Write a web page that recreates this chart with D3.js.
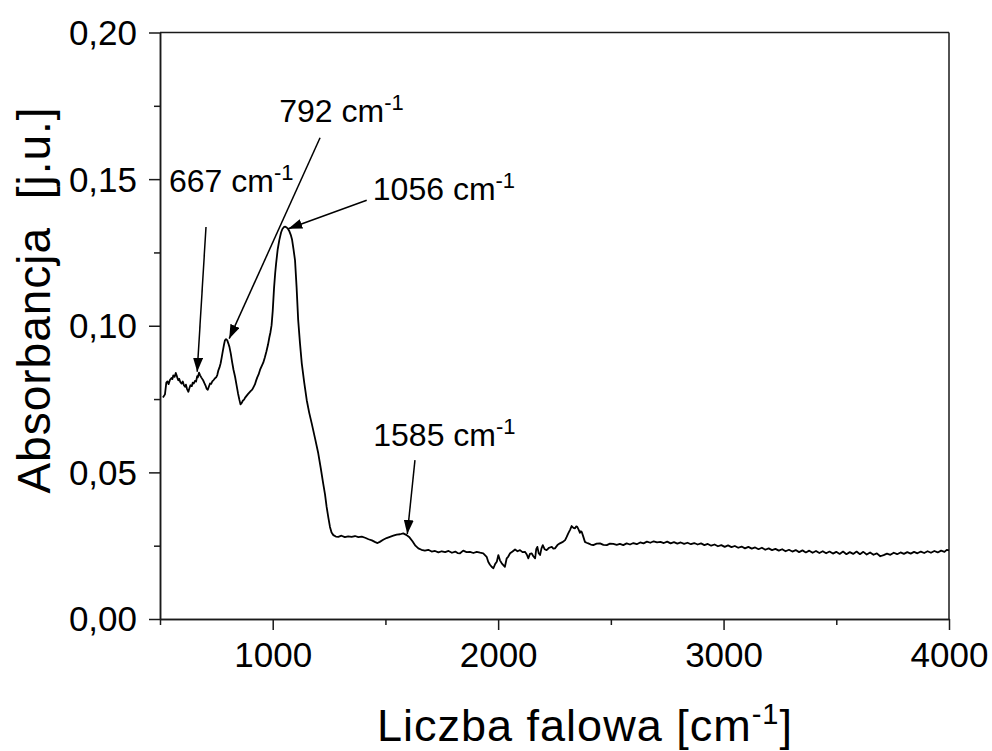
<!DOCTYPE html>
<html>
<head>
<meta charset="utf-8">
<script src="https://cdn.jsdelivr.net/npm/d3@7"></script>
<style>
  html, body { margin: 0; padding: 0; background: #fff; }
  svg { display: block; font-family: Arial, "Liberation Sans", sans-serif; }
</style>
</head>
<body>
<svg id="chart" width="992" height="751"></svg>
<script>
// ---- Data ----
const waveNumber = [
  513,522,528,533,538,544,551,555,559,565,570,574,578,581,585,590,596,601,606,611,615,620,626,630,635,641,645,650,655,660,
  665,668,673,678,683,688,692,697,702,707,712,717,722,727,732,738,744,749,754,759,764,769,774,779,784,788,793,798,803,808,
  814,820,826,833,840,846,852,857,862,868,873,877,883,890,896,903,909,915,921,926,931,937,944,951,958,965,972,979,985,990,
  995,1000,1006,1011,1015,1022,1029,1037,1043,1050,1056,1062,1068,1074,1080,1086,1092,1099,1106,1113,1121,1129,1140,1151,1162,1173,1188,1202,1213,1224,
  1232,1239,1247,1254,1261,1269,1280,
  1291,1305,1320,1335,1350,1365,1380,1395,1410,1425,1440,1455,1465,1475,1490,1505,1520,1535,1550,1565,1579,1592,1605,1620,1633,1646,1660,1675,1690,1705,
  1720,1735,1750,1765,1780,1795,1810,1820,
  1831,1845,1860,1875,1890,1905,1920,1934,1949,1956,1963,1971,1979,1987,1994,2001,2008,2016,2023,2030,2038,2045,2053,2064,2075,2086,2097,2108,2119,2127,
  2134,2141,2149,2156,2164,2169,2174,2180,2186,2192,2198,2206,2215,2226,2238,2245,2252,2263,2274,2285,2297,2304,2311,2319,2326,2334,2341,2346,2351,2357,
  2363,2367,2371,2378,2385,2392,2400,2411,2422,2437,2452,2467,2482,2496,2511,2526,
  2540,2555,2570,2585,2600,2615,2630,2645,2660,2675,
  2690,2705,2720,2735,2750,2765,2780,2795,2810,2825,
  2840,2855,2870,2885,2900,2915,2930,2945,2960,2975,
  2990,3005,3020,3035,3050,3065,3080,3095,3110,3125,
  3140,3155,3170,3185,3200,3215,3230,3245,3260,3275,
  3290,3305,3320,3335,3350,3365,3380,3395,3410,3425,
  3440,3455,3470,3485,3500,3515,3530,3545,3560,3575,
  3590,3605,3620,3635,3650,3665,3680,3695,3710,3725,
  3740,3755,3770,3785,3800,3815,3830,3845,3860,3875,
  3890,3905,3920,3935,3950,3965,3980,3990,4000
];
const absorbance = [
  0.0755,0.0766,0.0806,0.0810,0.0801,0.0815,0.0822,0.0818,0.0831,0.0826,0.0839,0.0830,0.0820,0.0814,0.0819,0.0808,0.0803,0.0810,0.0797,0.0792,0.0799,0.0784,0.0775,0.0786,0.0797,0.0794,0.0806,0.0803,0.0812,0.0810,
  0.0828,0.0824,0.0840,0.0831,0.0824,0.0818,0.0813,0.0804,0.0796,0.0785,0.0782,0.0793,0.0803,0.0802,0.0810,0.0815,0.0821,0.0824,0.0832,0.0848,0.0858,0.0872,0.0893,0.0915,0.0936,0.0950,0.0954,0.0951,0.0940,0.0928,
  0.0905,0.0876,0.0850,0.0826,0.0796,0.0770,0.0748,0.0732,0.0736,0.0745,0.0748,0.0754,0.0760,0.0767,0.0772,0.0778,0.0782,0.0791,0.0800,0.0812,0.0823,0.0833,0.0850,0.0862,0.0874,0.0892,0.0912,0.0935,0.0960,0.0978,
  0.1002,0.1050,0.1130,0.1180,0.1212,0.1260,0.1291,0.1318,0.1330,0.1337,0.1338,0.1335,0.1330,0.1322,0.1310,0.1293,0.1262,0.1223,0.1130,0.1019,0.0940,0.0871,0.0805,0.0746,0.0703,0.0667,0.0615,0.0565,0.0515,0.0462,
  0.0425,0.0383,0.0345,0.0314,0.0295,0.0286,0.0281,
  0.0280,0.0284,0.0279,0.0282,0.0280,0.0283,0.0279,0.0281,0.0277,0.0272,0.0268,0.0262,0.0259,0.0263,0.0270,0.0276,0.0280,0.0284,0.0288,0.0289,0.0292,0.0287,0.0280,0.0265,0.0250,0.0241,0.0236,0.0233,0.0236,0.0230,
  0.0232,0.0227,0.0231,0.0228,0.0232,0.0226,0.0230,0.0225,
  0.0224,0.0233,0.0228,0.0229,0.0225,0.0229,0.0226,0.0224,0.0212,0.0195,0.0186,0.0178,0.0173,0.0188,0.0195,0.0218,0.0200,0.0190,0.0184,0.0178,0.0207,0.0213,0.0224,0.0230,0.0237,0.0231,0.0235,0.0228,0.0229,0.0220,
  0.0207,0.0222,0.0224,0.0214,0.0207,0.0238,0.0246,0.0224,0.0218,0.0240,0.0252,0.0238,0.0235,0.0243,0.0246,0.0240,0.0241,0.0252,0.0258,0.0262,0.0269,0.0280,0.0292,0.0304,0.0317,0.0311,0.0309,0.0316,0.0314,0.0305,
  0.0294,0.0299,0.0297,0.0280,0.0263,0.0260,0.0258,0.0254,0.0252,0.0257,0.0258,0.0253,0.0252,0.0257,0.0256,0.0253,
  0.0256,0.0252,0.0258,0.0254,0.0259,0.0255,0.0261,0.0258,0.0264,0.0260,
  0.0265,0.0261,0.0263,0.0259,0.0264,0.0258,0.0262,0.0257,0.0261,0.0256,
  0.0260,0.0255,0.0259,0.0254,0.0258,0.0252,0.0256,0.0250,0.0254,0.0248,
  0.0252,0.0246,0.0251,0.0245,0.0249,0.0243,0.0247,0.0241,0.0246,0.0240,
  0.0244,0.0238,0.0243,0.0236,0.0241,0.0235,0.0239,0.0233,0.0238,0.0231,
  0.0236,0.0230,0.0235,0.0228,0.0234,0.0227,0.0233,0.0226,0.0232,0.0225,
  0.0231,0.0224,0.0230,0.0223,0.0229,0.0222,0.0230,0.0221,0.0228,0.0222,
  0.0230,0.0221,0.0229,0.0220,0.0227,0.0219,0.0224,0.0214,0.0218,0.0223,
  0.0219,0.0226,0.0221,0.0227,0.0222,0.0228,0.0223,0.0229,0.0224,0.0230,
  0.0225,0.0231,0.0226,0.0232,0.0227,0.0233,0.0229,0.0236,0.0234
];

const xMajorTicks = [1000, 2000, 3000, 4000];
const xMinorTicks = [500, 1500, 2500, 3500];
const yMajorTicks = [0.00, 0.05, 0.10, 0.15, 0.20];
const yMinorTicks = [0.025, 0.075, 0.125, 0.175];

// Peak annotations (label, text anchor point, arrow start, arrow tip) in data units
const peakLabels   = ["667", "792", "1056", "1585"];
const labelWave    = [540, 1029, 1444, 1446];
const labelAbs     = [0.1456, 0.1694, 0.1428, 0.0589];
const arrowFromWave = [704, 1210, 1417, 1631];
const arrowFromAbs  = [0.1337, 0.1641, 0.1428, 0.0542];
const arrowToWave   = [665, 807, 1069, 1597];
const arrowToAbs    = [0.0843, 0.0956, 0.1331, 0.0290];

const xTitle = "Liczba falowa [cm";
const yTitle = "Absorbancja  [j.u.]";

// ---- Drawing ----
const svg = d3.select("#chart");
const pLeft = 160, pRight = 949, pTop = 32.5, pBottom = 619;
const x = d3.scaleLinear().domain([500, 4000]).range([pLeft, pRight]);
const y = d3.scaleLinear().domain([0, 0.20]).range([pBottom, pTop]);

const fmt = d3.formatLocale({decimal: ",", thousands: "", grouping: [3], currency: ["", ""]});
const yFmt = fmt.format(".2f");
const axisColor = "#1a1a1a";

// frame: top and right lines
svg.append("line").attr("x1", pLeft).attr("x2", pRight).attr("y1", pTop).attr("y2", pTop)
  .attr("stroke", axisColor).attr("stroke-width", 1.5);
svg.append("line").attr("x1", pRight).attr("x2", pRight).attr("y1", pTop).attr("y2", pBottom)
  .attr("stroke", axisColor).attr("stroke-width", 1.5);

// x axis
const gx = svg.append("g").attr("transform", `translate(0,${pBottom})`)
  .call(d3.axisBottom(x).tickValues(xMajorTicks).tickSize(11).tickPadding(12).tickFormat(d3.format("d")).tickSizeOuter(0));
svg.append("g").attr("transform", `translate(0,${pBottom})`)
  .call(d3.axisBottom(x).tickValues(xMinorTicks).tickSize(6).tickFormat("").tickSizeOuter(0));
// y axis
const gy = svg.append("g").attr("transform", `translate(${pLeft},0)`)
  .call(d3.axisLeft(y).tickValues(yMajorTicks).tickSize(11).tickPadding(12).tickFormat(yFmt).tickSizeOuter(0));
svg.append("g").attr("transform", `translate(${pLeft},0)`)
  .call(d3.axisLeft(y).tickValues(yMinorTicks).tickSize(6).tickFormat("").tickSizeOuter(0));

svg.selectAll(".domain").attr("stroke", axisColor).attr("stroke-width", 1.5);
svg.selectAll(".tick line").attr("stroke", axisColor).attr("stroke-width", 1.5);
svg.selectAll(".tick text").attr("fill", "#000").style("font-size", "35px")
  .style("font-family", "Arial, 'Liberation Sans', sans-serif");
gx.selectAll(".tick text").attr("dy", "0.71em");
gy.selectAll(".tick text").attr("dy", "0.34em");

// spectrum
const pts = waveNumber.map((w, i) => [w, absorbance[i]]);
svg.append("path").datum(pts)
  .attr("fill", "none").attr("stroke", "#000").attr("stroke-width", 1.8)
  .attr("stroke-linejoin", "round")
  .attr("d", d3.line().x(d => x(d[0])).y(d => y(d[1])));

// arrow marker
const defs = svg.append("defs");
defs.append("marker").attr("id", "arrowhead")
  .attr("viewBox", "0 0 14 10").attr("refX", 14).attr("refY", 5)
  .attr("markerWidth", 14).attr("markerHeight", 10)
  .attr("markerUnits", "userSpaceOnUse").attr("orient", "auto")
  .append("path").attr("d", "M0,0 L14,5 L0,10 Z").attr("fill", "#000");

peakLabels.forEach((lab, i) => {
  svg.append("line")
    .attr("x1", x(arrowFromWave[i])).attr("y1", y(arrowFromAbs[i]))
    .attr("x2", x(arrowToWave[i])).attr("y2", y(arrowToAbs[i]))
    .attr("stroke", "#000").attr("stroke-width", 1.5)
    .attr("marker-end", "url(#arrowhead)");
  const t = svg.append("text")
    .attr("x", x(labelWave[i])).attr("y", y(labelAbs[i]))
    .style("font-size", "32px").attr("fill", "#000");
  t.append("tspan").text(lab + " cm");
  t.append("tspan").attr("dy", -12).style("font-size", "22px").text("-1");
});

// axis titles
const xt = svg.append("text").attr("x", 377).attr("y", 741)
  .style("font-size", "45px").style("letter-spacing", "1px").attr("fill", "#000");
xt.append("tspan").text(xTitle);
xt.append("tspan").attr("dy", -17).style("font-size", "29px").text("-1");
xt.append("tspan").attr("dy", 17).text("]");

svg.append("text")
  .attr("transform", "translate(50,300) rotate(-90)")
  .attr("text-anchor", "middle")
  .style("font-size", "46px").style("letter-spacing", "1px").attr("fill", "#000")
  .style("white-space", "pre")
  .text(yTitle);
</script>
</body>
</html>
